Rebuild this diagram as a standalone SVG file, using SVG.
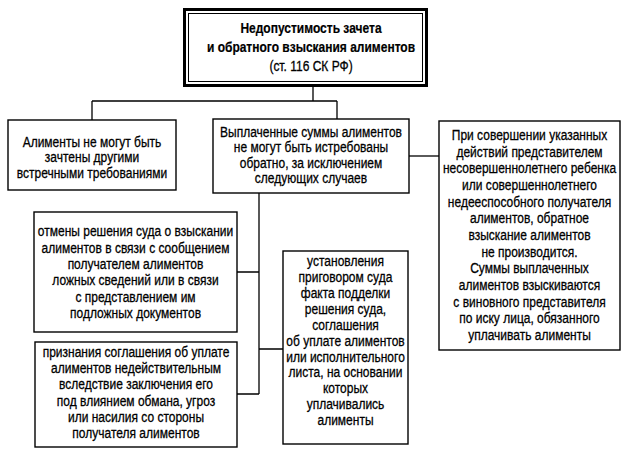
<svg xmlns="http://www.w3.org/2000/svg" width="623" height="452" viewBox="0 0 623 452">
<style>
.box{fill:#fff;stroke:#000;stroke-width:1.4}
.c{fill:none;stroke:#000;stroke-width:1.3}
text{font-family:"Liberation Sans",Arial,sans-serif;font-size:15px;text-anchor:middle;fill:#000;stroke:#000;stroke-width:0.3}
.b{font-weight:bold;stroke-width:0.2}
</style>
<rect width="623" height="452" fill="#fff"/>
<g id="connectors">
<path class="c" d="M313,87 V101 M92,101 H337 M92,101 V120 M337,101 V119"/>
<path class="c" d="M409,156 H439"/>
<path class="c" d="M259,193 V394 M237,272 H259 M259,349 H283 M237,394 H259"/>
</g>
<g id="title">
<rect x="184.5" y="9.5" width="242" height="76" fill="#fff" stroke="#000" stroke-width="3"/>
<rect x="188.5" y="13.5" width="234" height="68" fill="none" stroke="#000" stroke-width="1"/>
<g transform="translate(311,0) scale(0.8,1)">
<text class="b" x="0" y="33">Недопустимость зачета</text>
<text class="b" x="0" y="52">и обратного взыскания алиментов</text>
<text x="0" y="71">(ст. 116 СК РФ)</text>
</g>
</g>
<g id="left">
<rect class="box" x="8" y="120" width="168" height="70"/>
<g transform="translate(92,0) scale(0.8,1)">
<text x="0" y="147">Алименты не могут быть</text>
<text x="0" y="162.5">зачтены другими</text>
<text x="0" y="178">встречными требованиями</text>
</g>
</g>
<g id="middle">
<rect class="box" x="213" y="119" width="196" height="74"/>
<g transform="translate(311,0) scale(0.8,1)">
<text x="0" y="137">Выплаченные суммы алиментов</text>
<text x="0" y="152.5">не могут быть истребованы</text>
<text x="0" y="168">обратно, за исключением</text>
<text x="0" y="183.5">следующих случаев</text>
</g>
</g>
<g id="right">
<rect class="box" x="439" y="121" width="181" height="229"/>
<g transform="translate(529.5,0) scale(0.8,1)">
<text x="0" y="140">При совершении указанных</text>
<text x="0" y="156.7">действий представителем</text>
<text x="0" y="173.3">несовершеннолетнего ребенка</text>
<text x="0" y="190">или совершеннолетнего</text>
<text x="0" y="206.7">недееспособного получателя</text>
<text x="0" y="223.3">алиментов, обратное</text>
<text x="0" y="240">взыскание алиментов</text>
<text x="0" y="256.7">не производится.</text>
<text x="0" y="273.3">Суммы выплаченных</text>
<text x="0" y="290">алиментов взыскиваются</text>
<text x="0" y="306.7">с виновного представителя</text>
<text x="0" y="323.3">по иску лица, обязанного</text>
<text x="0" y="340">уплачивать алименты</text>
</g>
</g>
<g id="case1">
<rect class="box" x="34" y="212" width="203" height="120"/>
<g transform="translate(135.5,0) scale(0.8,1)">
<text x="0" y="236.5">отмены решения суда о взыскании</text>
<text x="0" y="252.8">алиментов в связи с сообщением</text>
<text x="0" y="269">получателем алиментов</text>
<text x="0" y="285.3">ложных сведений или в связи</text>
<text x="0" y="301.6">с представлением им</text>
<text x="0" y="318">подложных документов</text>
</g>
</g>
<g id="case2">
<rect class="box" x="35" y="342" width="202" height="105"/>
<g transform="translate(136,0) scale(0.8,1)">
<text x="0" y="357">признания соглашения об уплате</text>
<text x="0" y="373.2">алиментов недействительным</text>
<text x="0" y="389.4">вследствие заключения его</text>
<text x="0" y="405.6">под влиянием обмана, угроз</text>
<text x="0" y="421.8">или насилия со стороны</text>
<text x="0" y="438">получателя алиментов</text>
</g>
</g>
<g id="case3">
<rect class="box" x="283" y="251" width="125" height="193"/>
<g transform="translate(345.5,0) scale(0.8,1)">
<text x="0" y="266.5">установления</text>
<text x="0" y="282.4">приговором суда</text>
<text x="0" y="298.2">факта подделки</text>
<text x="0" y="314">решения суда,</text>
<text x="0" y="329.9">соглашения</text>
<text x="0" y="345.8">об уплате алиментов</text>
<text x="0" y="361.6">или исполнительного</text>
<text x="0" y="377.5">листа, на основании</text>
<text x="0" y="393.3">которых</text>
<text x="0" y="409.2">уплачивались</text>
<text x="0" y="425">алименты</text>
</g>
</g>
</svg>
